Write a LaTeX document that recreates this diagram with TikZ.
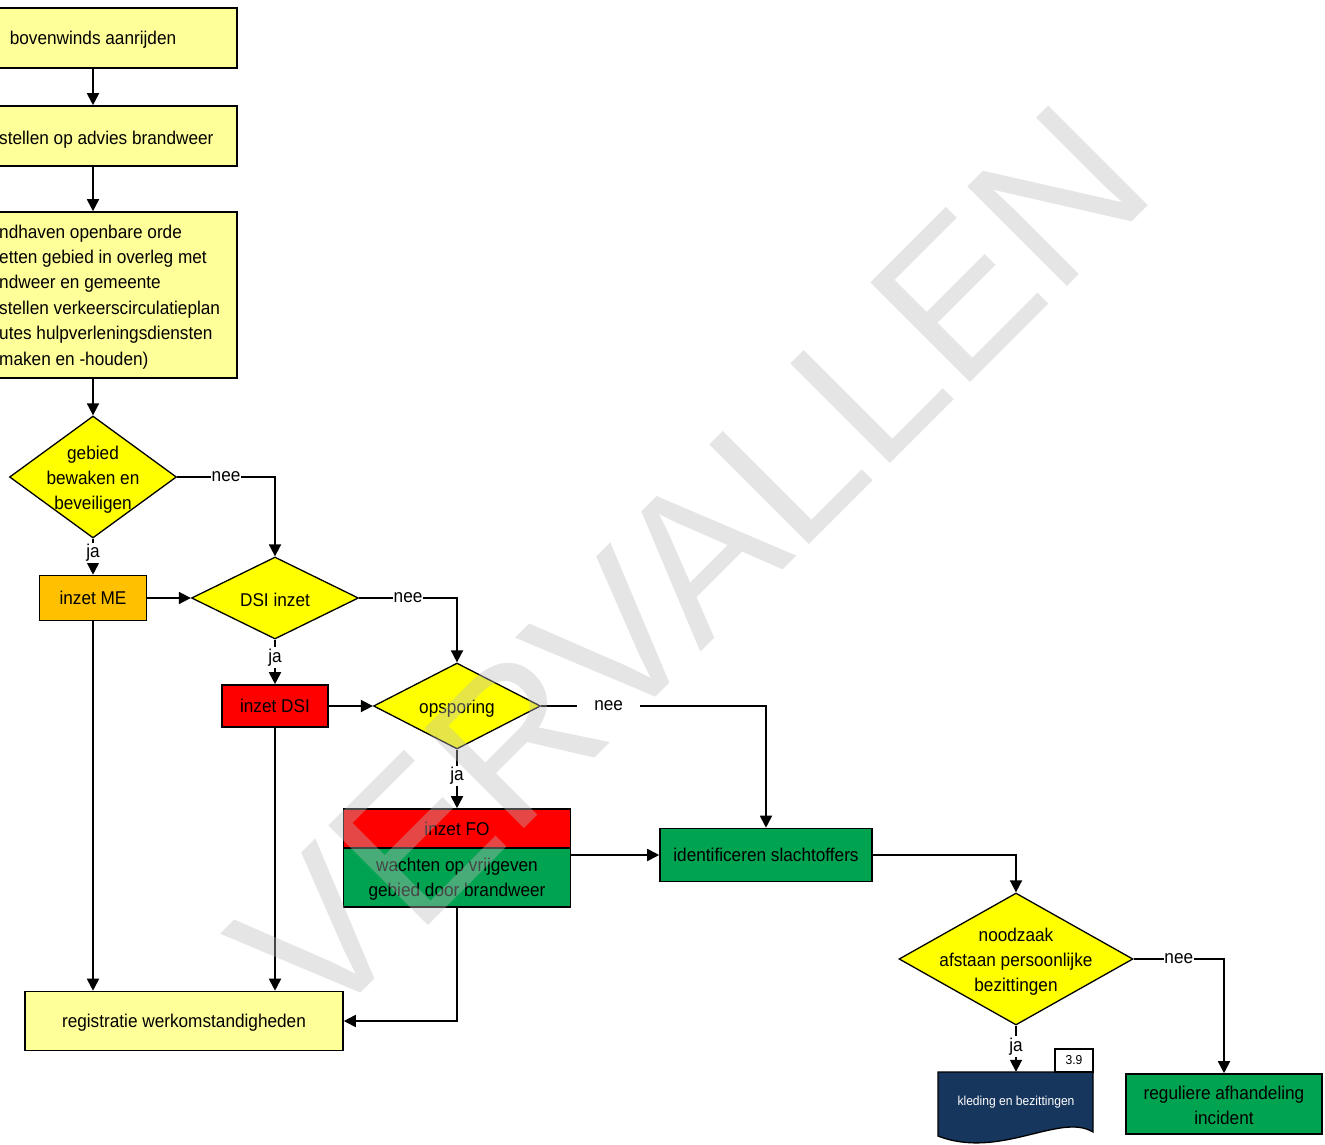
\documentclass[tikz,border=0pt]{standalone}
\usepackage{fontspec}
\setmainfont{Liberation Sans}[FakeStretch=0.93]
\newfontfamily\wmfont{Liberation Sans}
\usetikzlibrary{arrows.meta,shapes.geometric}
\definecolor{lyel}{RGB}{255,255,153}
\definecolor{dyel}{RGB}{255,255,0}
\definecolor{orng}{RGB}{255,192,0}
\definecolor{rred}{RGB}{255,0,0}
\definecolor{grn}{RGB}{0,163,80}
\definecolor{navy}{RGB}{23,54,93}
\definecolor{wmgray}{RGB}{187,187,187}
\begin{document}
\begin{tikzpicture}[x=1pt,y=-1pt,
  font=\fontsize{18.5}{25}\selectfont,
  box/.style={draw=black, line width=1.6pt, inner sep=0pt, align=center},
  dia/.style={draw=black, line width=1.3pt, shape=diamond, inner sep=0pt, fill=dyel},
  dtxt/.style={align=center, inner sep=0pt, yshift=-2.5pt},
  con/.style={line width=1.8pt, -{Triangle[length=12pt,width=12pt]}},
  lab/.style={fill=white, inner sep=1.5pt}
]
\useasboundingbox (0,0) rectangle (1325,1145);

% top boxes
\node[box, fill=lyel, minimum width=288pt, minimum height=60pt] (b1) at (93,38) {};
\node[inner sep=0pt, yshift=-2pt] (b1t) at (b1) {bovenwinds aanrijden};
\node[box, fill=lyel, minimum width=288pt, minimum height=60pt] (b2) at (93,136) {};
\node[anchor=base west, inner sep=0pt] (b2t) at (-1,145) {stellen op advies brandweer};
\node[box, fill=lyel, minimum width=288pt, minimum height=166pt] (b3) at (93,295) {};
\foreach \t [count=\i] in {ndhaven openbare orde, etten gebied in overleg met, ndweer en gemeente, stellen verkeerscirculatieplan, utes hulpverleningsdiensten, maken en -houden)}
  \node[anchor=base west, inner sep=0pt] (b3l\i) at (-1,{238+25.4*(\i-1)}) {\t};

% diamonds
\node[dia, minimum width=167pt, minimum height=122pt] (d1) at (93,477) {};
\node[dtxt] (d1t) at (d1) {gebied\\bewaken en\\beveiligen};
\node[dia, minimum width=167pt, minimum height=82pt] (d2) at (275,598) {};
\node[dtxt, yshift=1pt] (d2t) at (d2) {DSI inzet};
\node[dia, minimum width=167pt, minimum height=86pt] (d3) at (457,706) {};
\node[dtxt] (d3t) at (d3) {opsporing};
\node[dia, minimum width=234pt, minimum height=132pt] (d4) at (1016,959) {};
\node[dtxt] (d4t) at (d4) {noodzaak\\afstaan persoonlijke\\bezittingen};

% process boxes
\node[box, fill=orng, minimum width=107pt, minimum height=45pt] (me) at (93,598) {inzet ME};
\node[box, fill=rred, minimum width=106pt, minimum height=42pt] (dsi) at (275,706) {inzet DSI};
\node[box, fill=rred, minimum width=227pt, minimum height=39pt] (fo) at (457,828.5) {inzet FO};
\node[box, fill=grn, minimum width=227pt, minimum height=59pt] (fog) at (457,877.5) {};
\node[dtxt, yshift=1pt] (fogt) at (fog) {wachten op vrijgeven\\gebied door brandweer};
\node[box, fill=grn, minimum width=212pt, minimum height=53pt] (ident) at (766,855) {identificeren slachtoffers};
\node[box, fill=lyel, minimum width=318pt, minimum height=59pt] (reg) at (184,1021) {};
\node[inner sep=0pt, yshift=-2pt] (regt) at (reg) {registratie werkomstandigheden};
\node[box, fill=grn, minimum width=196pt, minimum height=60pt] (regul) at (1224,1104) {};
\node[dtxt, yshift=1pt] (regult) at (regul) {reguliere afhandeling\\incident};

% document shape
\node[minimum width=155pt, minimum height=56pt, inner sep=0pt] (kled) at (1016,1100) {};
\filldraw[fill=navy, draw=black, line width=1.3pt] (938,1072) -- (1093,1072) -- (1093,1132)
  .. controls (1060,1112) and (1000,1160) .. (938,1136) -- cycle;
\node[text=white, font=\fontsize{13}{15}\selectfont] (kledt) at (1016,1102) {kleding en bezittingen};
\node[box, fill=white, line width=1.2pt, minimum width=38pt, minimum height=23pt, font=\fontsize{13}{15}\selectfont] (tag) at (1074,1060.5) {3.9};

% connectors
\draw[con] (b1.south) -- (b2.north);
\draw[con] (b2.south) -- (b3.north);
\draw[con] (b3.south) -- (d1.north);
\draw[con] (d1.south) -- node[lab, pos=0.4] (ja1) {ja} (me.north);
\draw[con] (d1.east) -- node[lab, inner sep=0.5pt] (nee1) {nee} (d1.east -| d2.north) -- (d2.north);
\draw[con] (me.east) -- (d2.west);
\draw[con] (d2.south) -- node[lab, pos=0.4] (ja2) {ja} (dsi.north);
\draw[con] (d2.east) -- node[lab, inner sep=0.5pt] (nee2) {nee} (d2.east -| d3.north) -- (d3.north);
\draw[con] (dsi.east) -- (d3.west);
\draw[con] (d3.south) -- node[lab, pos=0.45] (ja3) {ja} (fo.north);
\draw[con] (d3.east) -- node[lab, pos=0.3, inner xsep=17pt] (nee3) {nee} (d3.east -| ident.north) -- (ident.north);
\draw[con] (fog.east |- ident.west) -- (ident.west);
\draw[con] (ident.east) -| (d4.north);
\draw[con] (d4.east) -- node[lab, inner sep=0.5pt] (nee4) {nee} (d4.east -| regul.north) -- (regul.north);
\draw[con] (d4.south) -- node[lab, pos=0.45] (ja4) {ja} (kled.north);
\draw[con] (me.south) -- (me.south |- reg.north);
\draw[con] (dsi.south) -- (dsi.south |- reg.north);
\draw[con] (fog.south) |- (reg.east);

% watermark
\node[rotate=45, inner sep=0pt, text=wmgray, opacity=0.38, font=\wmfont\fontsize{205}{205}\selectfont] (wm) at (690,564) {VERVALLEN};
\end{tikzpicture}
\end{document}
